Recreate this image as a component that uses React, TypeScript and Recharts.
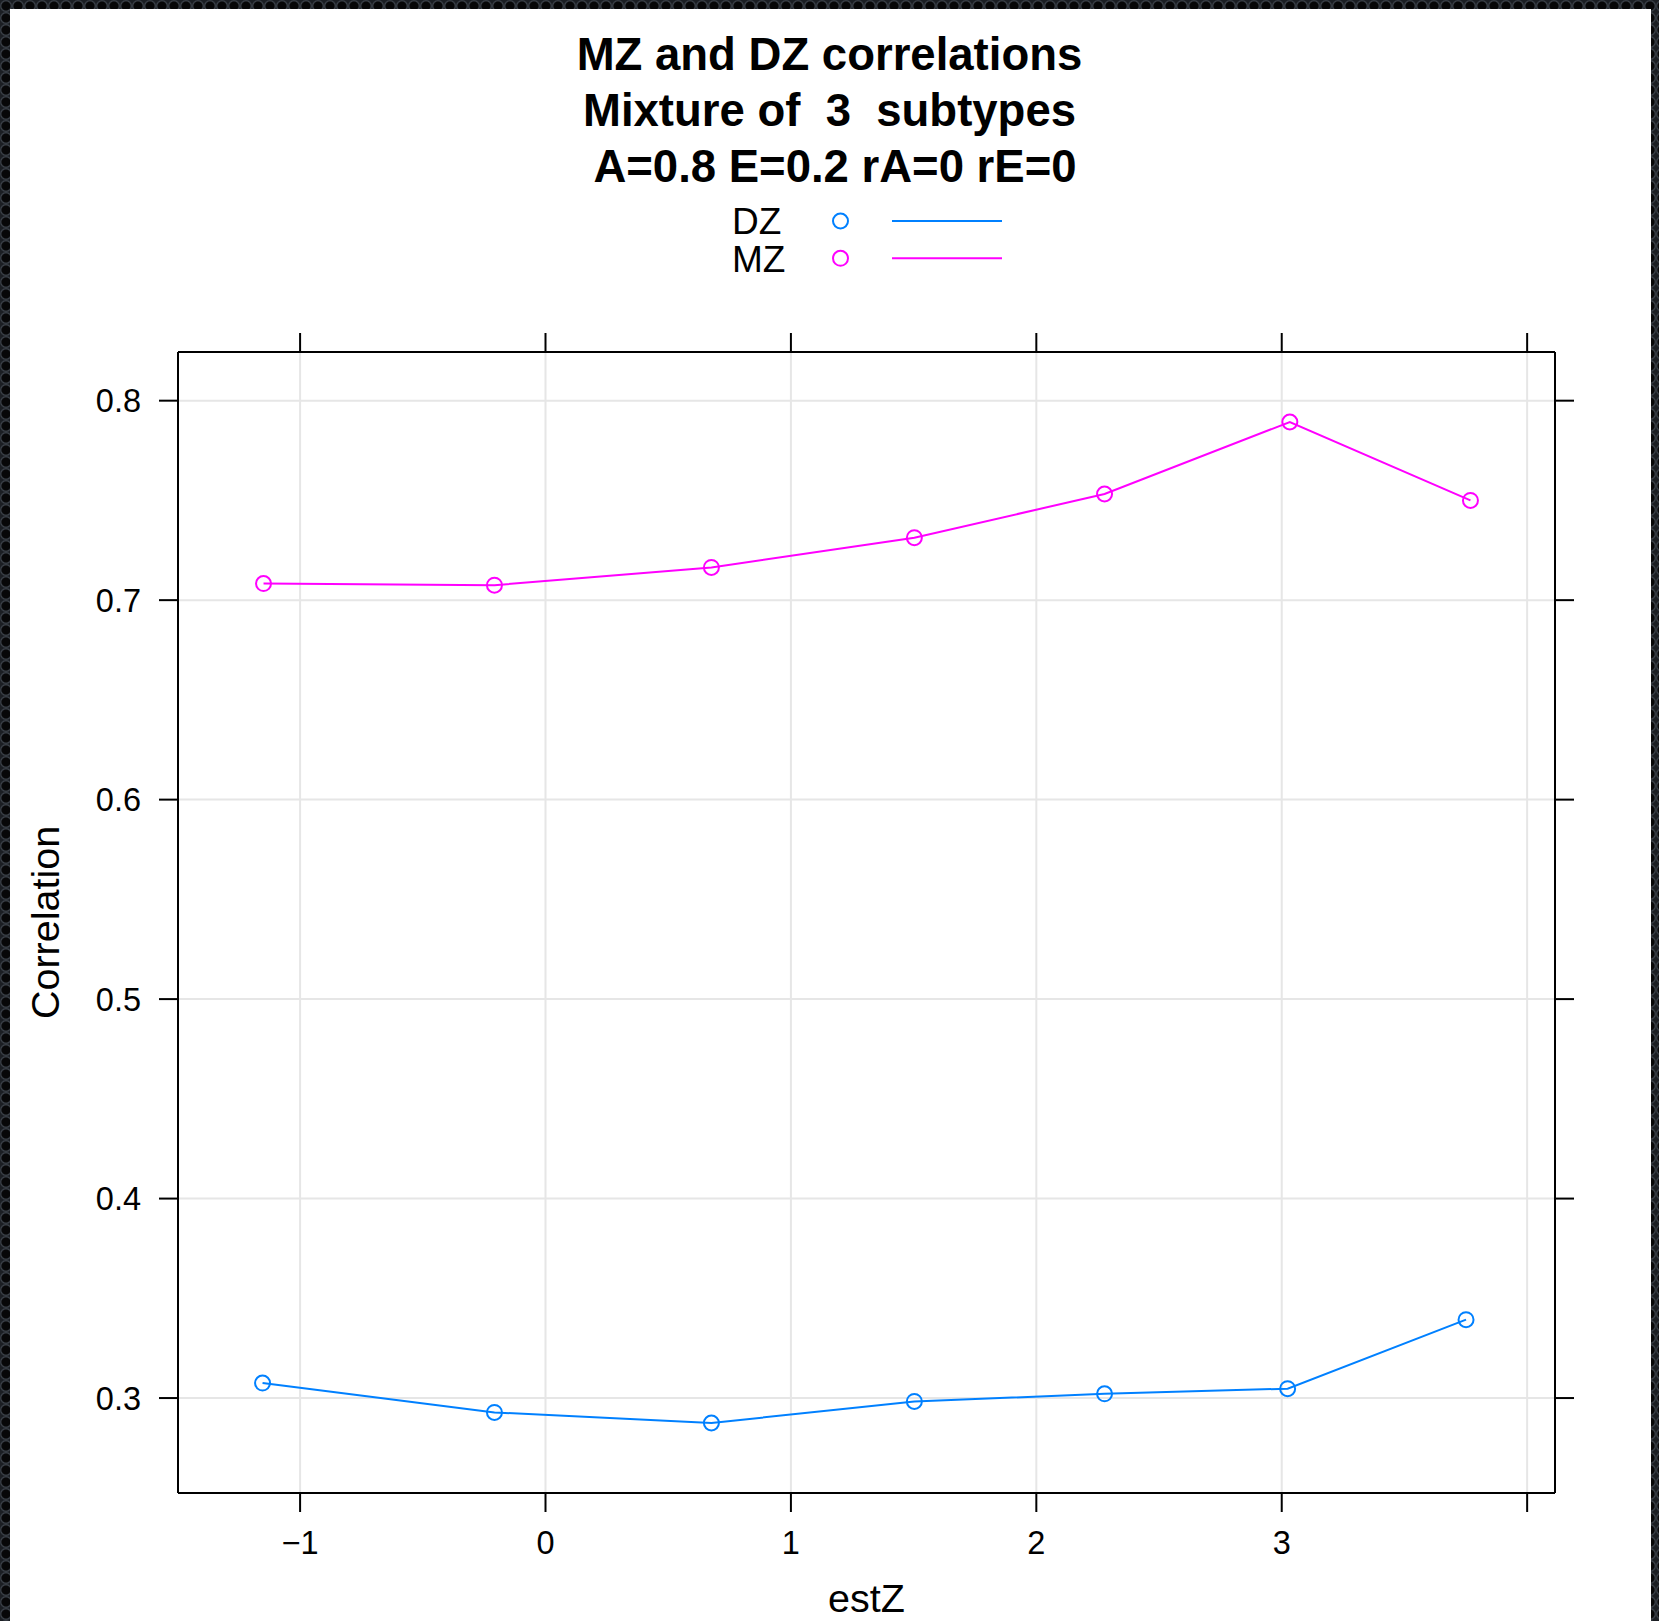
import React from 'react';
import { LineChart, Line, XAxis, YAxis, CartesianGrid } from 'recharts';

const FONT = '"Liberation Sans", Arial, Helvetica, sans-serif';

const titleLines = ['MZ and DZ correlations', 'Mixture of  3  subtypes', ' A=0.8 E=0.2 rA=0 rE=0'];
const xAxisTitle = 'estZ';
const yAxisTitle = 'Correlation';

const seriesNames = ['DZ', 'MZ'];
const seriesColors = ['#0080ff', '#ff00ff'];

const dzX = [-1.153, -0.208, 0.676, 1.503, 2.278, 3.024, 3.751];
const dzY = [0.3075, 0.2928, 0.2875, 0.2983, 0.3021, 0.3047, 0.3393];
const mzX = [-1.149, -0.208, 0.676, 1.503, 2.278, 3.033, 3.769];
const mzY = [0.7083, 0.7075, 0.7164, 0.7313, 0.7532, 0.7893, 0.75];

const xTicks = [-1, 0, 1, 2, 3, 4];
const xTickLabels = ['\u22121', '0', '1', '2', '3', ''];
const yTicks = [0.3, 0.4, 0.5, 0.6, 0.7, 0.8];
const yTickLabels = ['0.3', '0.4', '0.5', '0.6', '0.7', '0.8'];
const xDomain: [number, number] = [-1.4975, 4.1135];
const yDomain: [number, number] = [0.2524, 0.8244];

const dzData = dzX.map((x, i) => ({ x, y: dzY[i] }));
const mzData = mzX.map((x, i) => ({ x, y: mzY[i] }));
const seriesData = [dzData, mzData];

const fmtX = (v: number) => {
  const i = xTicks.indexOf(v);
  return i >= 0 ? xTickLabels[i] : String(v);
};
const fmtY = (v: number) => {
  const i = yTicks.findIndex((t) => Math.abs(t - v) < 1e-9);
  return i >= 0 ? yTickLabels[i] : String(v);
};
const fmtNone = () => '';

const XTitle = (props: any) => {
  const vb = props.viewBox || {};
  const cx = vb.x + vb.width / 2;
  const y = vb.y + vb.height + 39;
  return (
    <text x={cx} y={y} textAnchor="middle" fontSize={39.5} fill="#000" fontFamily={FONT}>
      {xAxisTitle}
    </text>
  );
};

const YTitle = (props: any) => {
  const vb = props.viewBox || {};
  const cy = vb.y + vb.height / 2;
  const x = vb.x - 19;
  return (
    <text
      x={x}
      y={cy}
      textAnchor="middle"
      fontSize={39.5}
      fill="#000"
      fontFamily={FONT}
      transform={`rotate(-90 ${x} ${cy})`}
    >
      {yAxisTitle}
    </text>
  );
};

const axisLineStyle = { stroke: '#000', strokeWidth: 2 };
const tickStyle = { fontSize: 32.5, fill: '#000', fontFamily: FONT };

export default function App() {
  return (
    <div
      style={{
        position: 'absolute',
        left: 0,
        top: 0,
        width: 1659,
        height: 1621,
        overflow: 'hidden',
        backgroundColor: '#15171b',
        backgroundImage:
          'radial-gradient(circle at 50% 50%, #070708 0px, #070708 4px, #3d434b 5.2px, #1b1e23 6.5px)',
        backgroundSize: '12px 12px',
        fontFamily: FONT,
      }}
    >
      <div
        style={{
          position: 'absolute',
          left: 10,
          top: 9,
          width: 1641,
          height: 1612,
          background: '#ffffff',
        }}
      />
      <div
        style={{
          position: 'absolute',
          left: 0,
          top: 27,
          width: 1659,
          textAlign: 'center',
          fontSize: 45.5,
          fontWeight: 'bold',
          lineHeight: '56px',
          whiteSpace: 'pre',
          color: '#000',
        }}
      >
        {titleLines.map((t, i) => (
          <div key={i}>{t}</div>
        ))}
      </div>
      <svg
        width={1659}
        height={300}
        style={{ position: 'absolute', left: 0, top: 0 }}
        fontFamily={FONT}
      >
        {seriesNames.map((name, i) => {
          const cy = 221 + i * 37.3;
          return (
            <g key={name}>
              <text x={732} y={cy + 13.3} fontSize={37} fill="#000">
                {name}
              </text>
              <circle cx={840.5} cy={cy} r={7.5} fill="none" stroke={seriesColors[i]} strokeWidth={2} />
              <line x1={892} x2={1002} y1={cy} y2={cy} stroke={seriesColors[i]} strokeWidth={2} />
            </g>
          );
        })}
      </svg>
      <LineChart
        width={1659}
        height={1621}
        margin={{ top: 312, right: 64, bottom: 48, left: 78 }}
        style={{ position: 'absolute', left: 0, top: 0, fontFamily: FONT }}
      >
        <CartesianGrid xAxisId="b" yAxisId="l" stroke="#e6e6e6" strokeWidth={2} />
        <XAxis
          xAxisId="b"
          type="number"
          dataKey="x"
          orientation="bottom"
          domain={xDomain}
          ticks={xTicks}
          allowDataOverflow
          interval={0}
          height={80}
          tickSize={19}
          tickMargin={19}
          tickFormatter={fmtX}
          tick={tickStyle}
          axisLine={axisLineStyle}
          tickLine={axisLineStyle}
          label={<XTitle />}
        />
        <XAxis
          xAxisId="t"
          type="number"
          dataKey="x"
          orientation="top"
          domain={xDomain}
          ticks={xTicks}
          allowDataOverflow
          interval={0}
          height={40}
          tickSize={19}
          tickFormatter={fmtNone}
          tick={tickStyle}
          axisLine={axisLineStyle}
          tickLine={axisLineStyle}
        />
        <YAxis
          yAxisId="l"
          type="number"
          orientation="left"
          domain={yDomain}
          ticks={yTicks}
          allowDataOverflow
          interval={0}
          width={100}
          tickSize={19}
          tickMargin={18}
          tickFormatter={fmtY}
          tick={tickStyle}
          axisLine={axisLineStyle}
          tickLine={axisLineStyle}
          label={<YTitle />}
        />
        <YAxis
          yAxisId="r"
          type="number"
          orientation="right"
          domain={yDomain}
          ticks={yTicks}
          allowDataOverflow
          interval={0}
          width={40}
          tickSize={19}
          tickFormatter={fmtNone}
          tick={tickStyle}
          axisLine={axisLineStyle}
          tickLine={axisLineStyle}
        />
        {seriesNames.map((name, i) => (
          <Line
            key={name}
            name={name}
            xAxisId="b"
            yAxisId="l"
            data={seriesData[i]}
            dataKey="y"
            type="linear"
            stroke={seriesColors[i]}
            strokeWidth={2}
            dot={{ r: 7.5, stroke: seriesColors[i], strokeWidth: 2, fill: 'none' }}
            activeDot={false}
            isAnimationActive={false}
          />
        ))}
      </LineChart>
    </div>
  );
}
